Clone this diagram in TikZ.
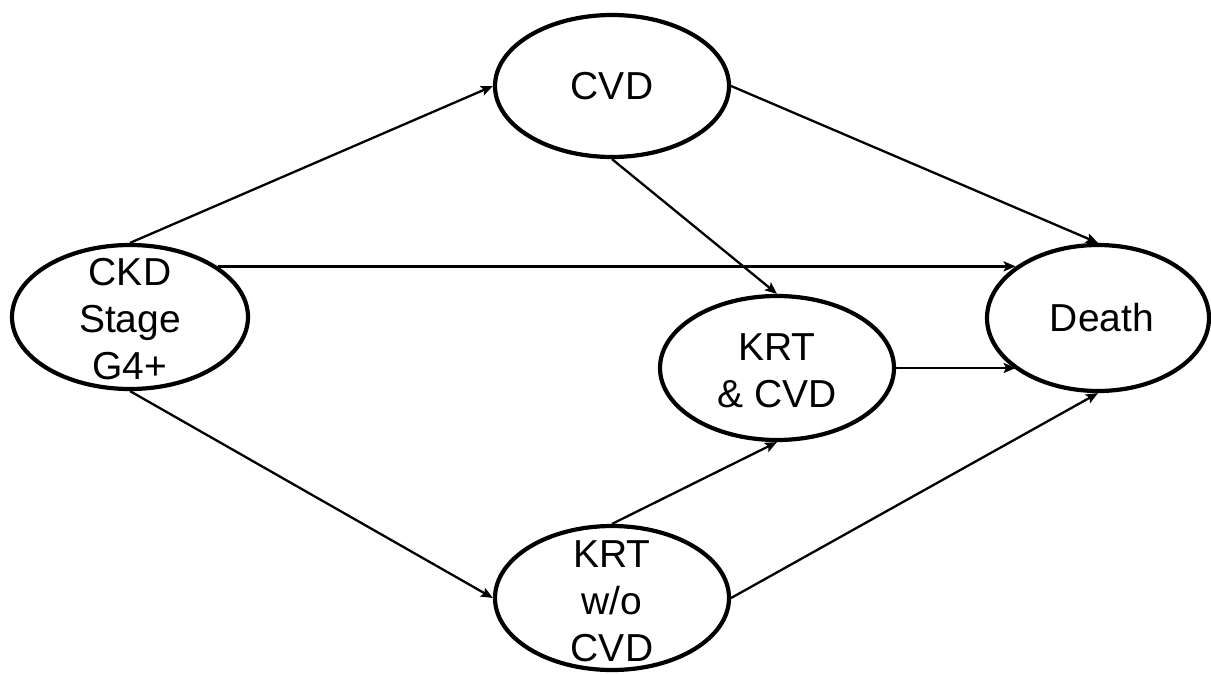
\documentclass[tikz,border=0pt]{standalone}
\usepackage{fontspec}
\setmainfont{Liberation Sans}
\usetikzlibrary{arrows.meta,shapes.geometric}

\tikzset{
  state/.style={ellipse, draw=black, line width=4.2pt, fill=white, inner sep=0pt},
  label text/.style={align=center, inner sep=0pt, font=\fontsize{39}{47}\selectfont},
  flow/.style={line width=2.3pt, -{Stealth[length=12pt,width=10pt,inset=2.5pt]}}
}

\begin{document}
\begin{tikzpicture}[x=1pt,y=-1pt]
  \useasboundingbox (0,0) rectangle (1211,675);

  % states
  \node[state, minimum width=234pt, minimum height=142pt] (cvd)    at (612,86)  {};
  \node[state, minimum width=236pt, minimum height=144pt] (ckd)    at (130,317) {};
  \node[state, minimum width=222pt, minimum height=146pt] (death)  at (1098,318) {};
  \node[state, minimum width=234pt, minimum height=144pt] (krtcvd) at (777,368) {};
  \node[state, minimum width=234pt, minimum height=144pt] (krtwo)  at (612,598) {};

  % state names
  \node[label text] (cvdtext)    at (cvd)    {CVD};
  \node[label text] (ckdtext)    at ([yshift=-2pt]ckd.center) {CKD\\Stage\\G4+};
  \node[label text] (deathtext)  at ([xshift=4pt]death.center) {Death};
  \node[label text] (krtcvdtext) at ([yshift=-3pt]krtcvd.center) {KRT\\\& CVD};
  \node[label text] (krtwotext)  at ([yshift=-3pt]krtwo.center) {KRT\\w/o\\CVD};

  % transitions
  \draw[flow] (ckd.north) -- (cvd.west);
  \draw[flow] (ckd.30) -- (ckd.30 -| death.148);
  \draw[flow] (ckd.south) -- (krtwo.west);
  \draw[flow] (cvd.east) -- (death.north);
  \draw[flow] (cvd.south) -- (krtcvd.north);
  \draw[flow] (krtcvd.east) -- (krtcvd.east -| death.212);
  \draw[flow] (krtwo.north) -- (krtcvd.south);
  \draw[flow] (krtwo.east) -- (death.south);
\end{tikzpicture}
\end{document}
